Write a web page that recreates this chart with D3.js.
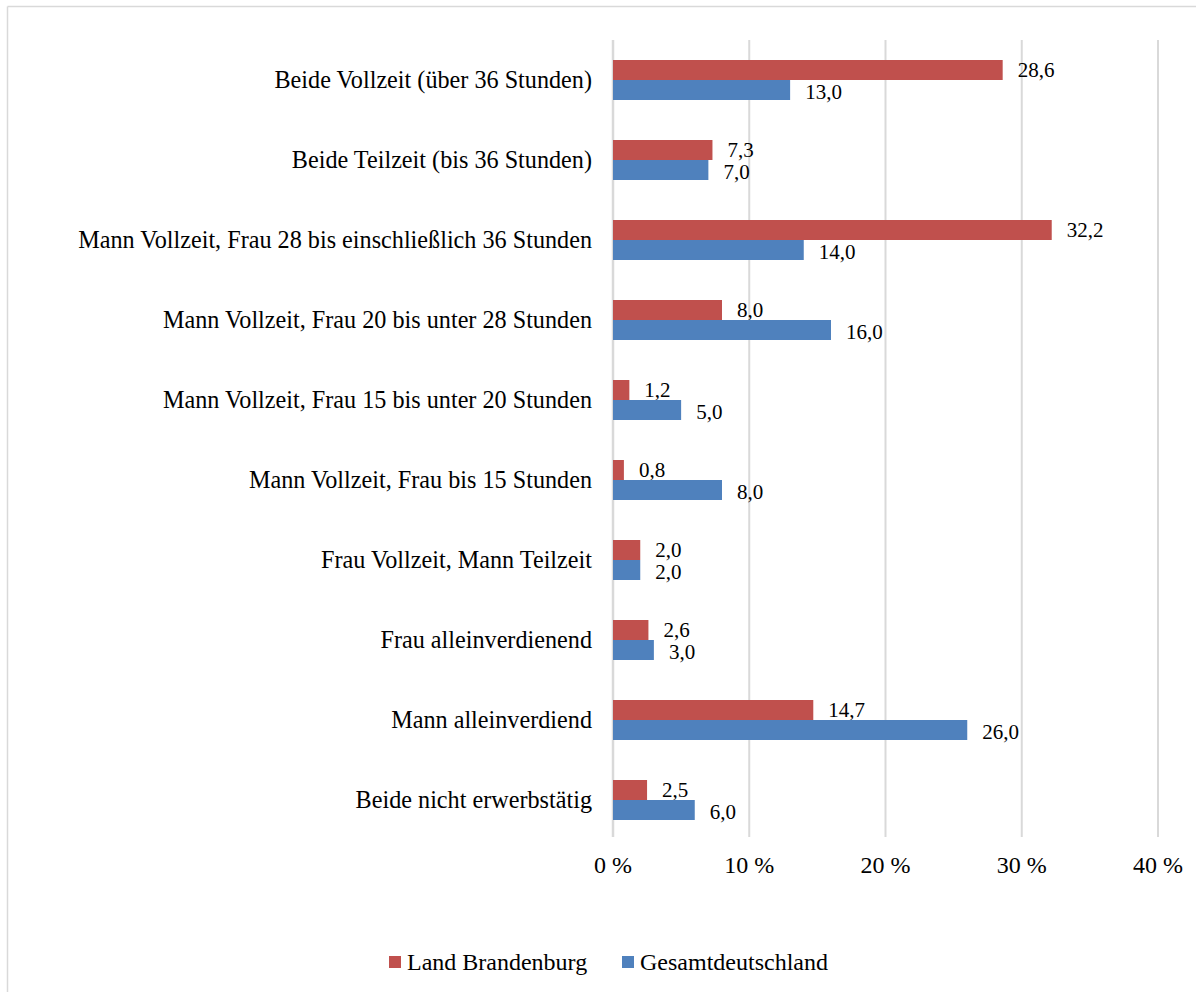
<!DOCTYPE html>
<html>
<head>
<meta charset="utf-8">
<script src="https://cdn.jsdelivr.net/npm/d3@7"></script>
<style>
  html, body { margin: 0; padding: 0; background: #fff; }
  svg { display: block; }
  text { font-family: "Liberation Serif", "Times New Roman", serif; fill: #000; }
</style>
</head>
<body>
<svg id="chart" width="1196" height="992"></svg>
<script>
const categories = [
  "Beide Vollzeit (über 36 Stunden)",
  "Beide Teilzeit (bis 36 Stunden)",
  "Mann Vollzeit, Frau 28 bis einschließlich 36 Stunden",
  "Mann Vollzeit, Frau 20 bis unter 28 Stunden",
  "Mann Vollzeit, Frau 15 bis unter 20 Stunden",
  "Mann Vollzeit, Frau bis 15 Stunden",
  "Frau Vollzeit, Mann Teilzeit",
  "Frau alleinverdienend",
  "Mann alleinverdiend",
  "Beide nicht erwerbstätig"
];
const brandenburg = [28.6, 7.3, 32.2, 8.0, 1.2, 0.8, 2.0, 2.6, 14.7, 2.5];
const deutschland = [13.0, 7.0, 14.0, 16.0, 5.0, 8.0, 2.0, 3.0, 26.0, 6.0];
const seriesNames = ["Land Brandenburg", "Gesamtdeutschland"];
const seriesColors = ["#C0504D", "#4F81BD"];
const xTicks = [0, 10, 20, 30, 40];

const svg = d3.select("#chart");

// outer frame (top and left edges visible)
svg.append("line").attr("x1", 7.5).attr("x2", 1196).attr("y1", 6.5).attr("y2", 6.5)
  .attr("stroke", "#d9d9d9").attr("stroke-width", 1.5);
svg.append("line").attr("x1", 7.5).attr("x2", 7.5).attr("y1", 6.5).attr("y2", 992)
  .attr("stroke", "#d9d9d9").attr("stroke-width", 1.5);

const plot = { left: 613, right: 1158, top: 40, bottom: 840 };

const x = d3.scaleLinear().domain([0, 40]).range([plot.left, plot.right]);
const y = d3.scaleBand().domain(categories).range([plot.top, plot.bottom]).paddingInner(0).paddingOuter(0);
const inner = d3.scaleBand().domain([0, 1]).range([0, y.bandwidth()]).paddingInner(0).paddingOuter(1);

// gridlines
svg.append("g").selectAll("line").data(xTicks).join("line")
  .attr("x1", d => x(d)).attr("x2", d => x(d))
  .attr("y1", plot.top).attr("y2", plot.bottom - 3)
  .attr("stroke", "#d9d9d9").attr("stroke-width", d => d === 0 ? 2.5 : 2);

// x tick labels
svg.append("g").selectAll("text").data(xTicks).join("text")
  .attr("x", d => x(d)).attr("y", 873)
  .attr("text-anchor", "middle").attr("font-size", 24)
  .text(d => d + " %");

// category labels
svg.append("g").selectAll("text").data(categories).join("text")
  .attr("x", plot.left - 21).attr("y", d => y(d) + y.bandwidth() / 2 + 8)
  .attr("text-anchor", "end").attr("font-size", 24.2)
  .text(d => d);

const series = [brandenburg, deutschland];
const fmt = v => d3.format(".1f")(v).replace(".", ",");
const labelShift = [-1, 1];

series.forEach((vals, si) => {
  const g = svg.append("g");
  g.selectAll("rect").data(vals).join("rect")
    .attr("x", x(0))
    .attr("y", (d, i) => y(categories[i]) + inner(si))
    .attr("width", d => x(d) - x(0))
    .attr("height", inner.bandwidth())
    .attr("fill", seriesColors[si]);
  g.selectAll("text").data(vals).join("text")
    .attr("x", d => x(d) + 15)
    .attr("y", (d, i) => y(categories[i]) + inner(si) + inner.bandwidth() / 2 + 7.5 + labelShift[si])
    .attr("font-size", 21)
    .text(d => fmt(d));
});

// legend
const legend = svg.append("g");
const legendX = [389, 622];
seriesNames.forEach((name, i) => {
  legend.append("rect").attr("x", legendX[i]).attr("y", 956).attr("width", 12).attr("height", 12)
    .attr("fill", seriesColors[i]);
  legend.append("text").attr("x", legendX[i] + 18).attr("y", 970).attr("font-size", 24).text(name);
});
</script>
</body>
</html>
